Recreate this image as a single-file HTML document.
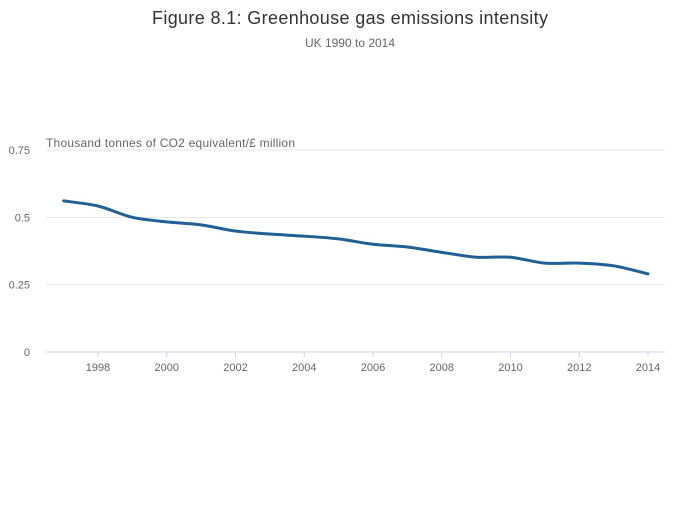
<!DOCTYPE html>
<html><head><meta charset="utf-8"><style>
body{margin:0;background:#fff;font-family:"Liberation Sans",sans-serif;}
svg text{font-family:"Liberation Sans",sans-serif;}
</style></head><body>
<svg id="chart" width="700" height="502" xmlns="http://www.w3.org/2000/svg">
<text x="152" y="24" textLength="396" font-size="18" fill="#333">Figure 8.1: Greenhouse gas emissions intensity</text>
<text x="350" y="47" text-anchor="middle" font-size="12" fill="#666">UK 1990 to 2014</text>
<text x="46" y="147" textLength="249" font-size="12" fill="#666">Thousand tonnes of CO2 equivalent/£ million</text>
<g id="grid"></g><g id="axes"></g><g id="series"></g>
</svg>
<script>
const years=[1997,1998,1999,2000,2001,2002,2003,2004,2005,2006,2007,2008,2009,2010,2011,2012,2013,2014];
const intensity=[0.561,0.542,0.50,0.483,0.472,0.449,0.438,0.43,0.42,0.40,0.39,0.37,0.352,0.352,0.33,0.33,0.32,0.29];
const yTicks=[0,0.25,0.5,0.75];
const yTickLabels=["0","0.25","0.5","0.75"];
const xTicks=[1998,2000,2002,2004,2006,2008,2010,2012,2014];

const NS="http://www.w3.org/2000/svg";
const X0=46,X1=665,Y0=352,Y1=150;
function xs(v){return 98+(v-1998)*(648-98)/16;}
function ys(v){return Y0-(v/0.75)*(Y0-Y1);}
function mk(tag,attrs,parent){const e=document.createElementNS(NS,tag);for(const k in attrs)e.setAttribute(k,attrs[k]);parent.appendChild(e);return e;}
const grid=document.getElementById('grid'),axes=document.getElementById('axes'),series=document.getElementById('series');
yTicks.forEach((t,i)=>{
  const l=mk('line',{x1:X0,x2:X1,y1:ys(t),y2:ys(t),stroke:t===0?'#c6d4e8':'#e6e6e6','stroke-width':1},grid);
  
  
  const tx=mk('text',{x:30,y:ys(t)+4,'text-anchor':'end','font-size':11,fill:'#666'},axes);
  tx.textContent=yTickLabels[i];
  
  
});
xTicks.forEach(t=>{
  const l=mk('line',{x1:xs(t),x2:xs(t),y1:Y0,y2:Y0+5,stroke:'#c6d4e8'},axes);
  
  
  const tx=mk('text',{x:xs(t),y:371,'text-anchor':'middle','font-size':11,fill:'#666'},axes);
  tx.textContent=String(t);
  
  
});
const pts=years.map((y,i)=>[xs(y),ys(intensity[i])]);
let d='M'+pts[0][0]+','+pts[0][1];
for(let i=0;i<pts.length-1;i++){
  const p0=pts[Math.max(0,i-1)],p1=pts[i],p2=pts[i+1],p3=pts[Math.min(pts.length-1,i+2)];
  const k=0.15;
  const c1=[p1[0]+(p2[0]-p0[0])*k,p1[1]+(p2[1]-p0[1])*k];
  const c2=[p2[0]-(p3[0]-p1[0])*k,p2[1]-(p3[1]-p1[1])*k];
  d+=' C'+c1[0]+','+c1[1]+' '+c2[0]+','+c2[1]+' '+p2[0]+','+p2[1];
}
const path=mk('path',{d:d,fill:'none',stroke:'#206095','stroke-width':3,'stroke-linecap':'round','stroke-linejoin':'round'},series);


</script>
</body></html>
